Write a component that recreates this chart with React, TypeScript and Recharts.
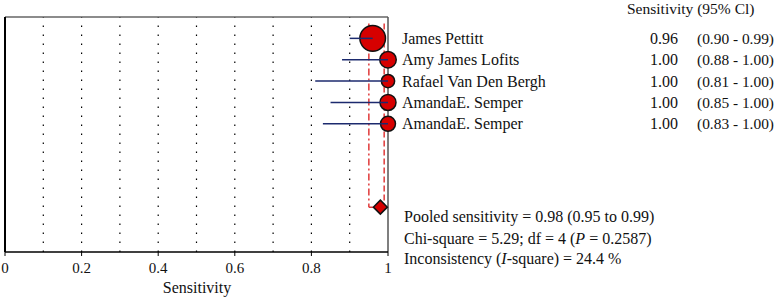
import { ComposedChart, Scatter, XAxis, YAxis, ZAxis, ReferenceLine } from 'recharts';

const studies = ['James Pettitt', 'Amy James Lofits', 'Rafael Van Den Bergh', 'AmandaE. Semper', 'AmandaE. Semper'];
const sensitivity = [0.96, 1.0, 1.0, 1.0, 1.0];
const lowerCI = [0.9, 0.88, 0.81, 0.85, 0.83];
const upperCI = [0.99, 1.0, 1.0, 1.0, 1.0];
const weights = [41, 17, 11, 16, 14];

const pooled = 0.98;
const pooledLower = 0.95;
const pooledUpper = 0.99;
const statLines = ['Pooled sensitivity = 0.98 (0.95 to 0.99)', 'Chi-square = 5.29; df = 4 (', 'Inconsistency ('];

const xTicks = [0, 0.2, 0.4, 0.6, 0.8, 1];
const gridTicks = [0.1, 0.2, 0.3, 0.4, 0.5, 0.6, 0.7, 0.8, 0.9];

const W = 777;
const H = 298;
const TOP = 17;
const PLOT_H = 235;
const ROWS = 11;
const POOLED_ROW = 8.9;
const rowY = (r: number) => TOP + (r * PLOT_H) / ROWS;

const FONT = '"Liberation Serif", "DejaVu Serif", serif';
const fmt = (v: number) => v.toFixed(2);

const studyData = studies.map((name, i) => ({ name, x: sensitivity[i], y: i + 1, w: weights[i] }));
const pooledData = [{ x: pooled, y: POOLED_ROW }];

const StudyDot = (props: any) => {
  const r = 2 * Math.sqrt(props.payload.w);
  return <circle cx={props.cx} cy={props.cy} r={r} fill="#d60000" stroke="#111" strokeWidth={1.5} />;
};

const Diamond = (props: any) => {
  const { cx, cy } = props;
  const d = 7;
  return (
    <polygon
      points={`${cx},${cy - d} ${cx + d},${cy} ${cx},${cy + d} ${cx - d},${cy}`}
      fill="#d60000"
      stroke="#111"
      strokeWidth={1.5}
    />
  );
};

export default function App() {
  return (
    <div style={{ position: 'absolute', left: 0, top: 0, width: W, height: H, background: '#fff', fontFamily: FONT, overflow: 'hidden' }}>
      <ComposedChart width={W} height={H} margin={{ top: TOP, right: 389, bottom: 16, left: 5 }} style={{ fontFamily: FONT }}>
        <XAxis
          type="number"
          dataKey="x"
          domain={[0, 1]}
          ticks={xTicks}
          height={30}
          axisLine={{ stroke: '#000', strokeWidth: 1.5 }}
          tickLine={{ stroke: '#000' }}
          tickSize={4}
          tickMargin={6}
          tick={{ fill: '#111', fontSize: 15, fontFamily: FONT }}
        />
        <YAxis type="number" dataKey="y" domain={[0, ROWS]} reversed hide />
        <ZAxis range={[60, 60]} />

        {gridTicks.map((t) => (
          <ReferenceLine key={t} x={t} stroke="#000" strokeWidth={1.2} strokeDasharray="1.5 7.5" />
        ))}
        <ReferenceLine y={0} stroke="#666" strokeWidth={1.5} />
        <ReferenceLine x={1} stroke="#555" strokeWidth={1.5} />
        <ReferenceLine x={0} stroke="#000" strokeWidth={2} />

        <ReferenceLine
          segment={[{ x: pooledLower, y: 0.3 }, { x: pooledLower, y: POOLED_ROW }]}
          stroke="#e03a3a"
          strokeWidth={1.5}
          strokeDasharray="7 3 2 3"
        />
        <ReferenceLine
          segment={[{ x: pooledLower, y: POOLED_ROW }, { x: pooled, y: POOLED_ROW }]}
          stroke="#e03a3a"
          strokeWidth={1.5}
          strokeDasharray="4 3"
        />
        <ReferenceLine
          segment={[{ x: pooledUpper, y: 0.3 }, { x: pooledUpper, y: POOLED_ROW }]}
          stroke="#e03a3a"
          strokeWidth={1.5}
          strokeDasharray="6 3"
        />

        <Scatter data={studyData} shape={StudyDot} isAnimationActive={false} />
        <Scatter data={pooledData} shape={Diamond} isAnimationActive={false} />

        {studies.map((s, i) => (
          <ReferenceLine
            key={'ci' + i}
            segment={[{ x: lowerCI[i], y: i + 1 }, { x: sensitivity[i], y: i + 1 }]}
            stroke="#1c2a6e"
            strokeWidth={1.5}
            zIndex={700}
          />
        ))}
      </ComposedChart>

      <svg
        width={W}
        height={H}
        style={{ position: 'absolute', left: 0, top: 0, pointerEvents: 'none' }}
        fontFamily={FONT}
        fontSize={16}
        fill="#111"
      >
        <text x={627} y={13.5} fontSize={15.5}>Sensitivity (95% Cl)</text>
        {studies.map((s, i) => (
          <g key={'row' + i}>
            <text x={402} y={rowY(i + 1) + 5.5}>{s}</text>
            <text x={650} y={rowY(i + 1) + 5.5}>{fmt(sensitivity[i])}</text>
            <text x={697} y={rowY(i + 1) + 5.5} fontSize={15.4}>({fmt(lowerCI[i])} - {fmt(upperCI[i])})</text>
          </g>
        ))}
        <text x={404} y={222}>{statLines[0]}</text>
        <text x={404} y={244}>
          {statLines[1]}
          <tspan fontStyle="italic">P</tspan> = 0.2587)
        </text>
        <text x={404} y={264}>
          {statLines[2]}
          <tspan fontStyle="italic">I</tspan>-square) = 24.4 %
        </text>
        <text x={197} y={293} textAnchor="middle">Sensitivity</text>
      </svg>
    </div>
  );
}
